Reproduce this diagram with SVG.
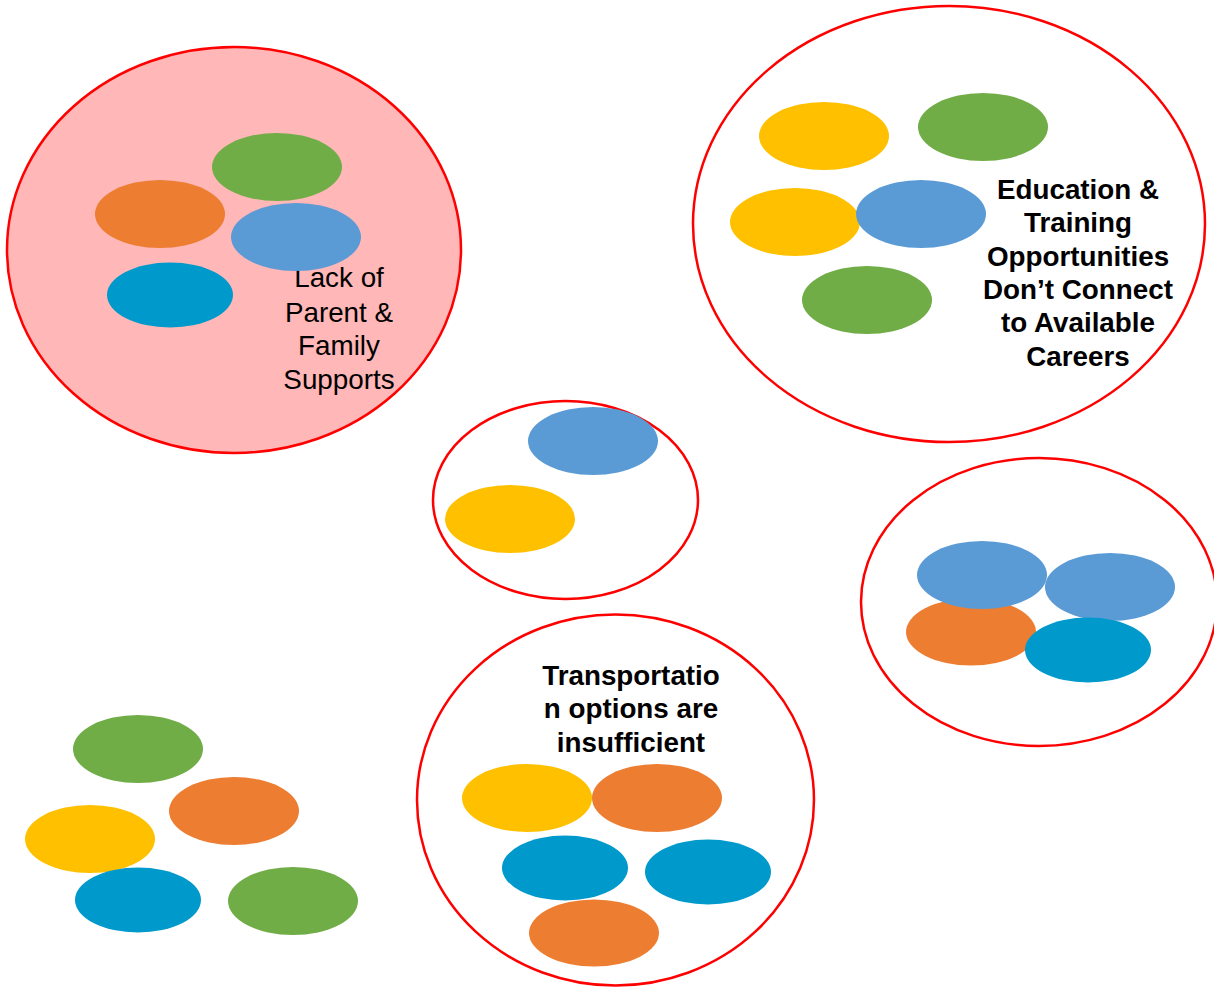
<svg xmlns="http://www.w3.org/2000/svg" width="1214" height="987" viewBox="0 0 1214 987">
<style>
.ring{fill:#FFFFFF;stroke:#FF0000;stroke-width:2.5}
.pink{fill:#FFB7B7}
.g{fill:#70AD47}.o{fill:#ED7D31}.b{fill:#5B9BD5}.t{fill:#0099CC}.y{fill:#FFC000}
.lbl{font-family:"Liberation Sans",Arial,sans-serif;font-size:27.8px;fill:#000;text-anchor:middle}
.bold{font-weight:bold}
</style>
<rect width="1214" height="987" fill="#FFFFFF"/>
<g id="parent-family">
<ellipse class="ring pink" cx="234" cy="250" rx="227" ry="203"/>
<text class="lbl"><tspan x="339" y="287">Lack of</tspan><tspan x="339" y="322">Parent &amp;</tspan><tspan x="339" y="355">Family</tspan><tspan x="339" y="389">Supports</tspan></text>
<ellipse class="g" cx="277" cy="167" rx="65" ry="34"/>
<ellipse class="o" cx="160" cy="214" rx="65" ry="34"/>
<ellipse class="b" cx="296" cy="237" rx="65" ry="34"/>
<ellipse class="t" cx="170" cy="295" rx="63" ry="32.5"/>
</g>
<g id="education">
<ellipse class="ring" cx="949" cy="224" rx="256" ry="218"/>
<ellipse class="y" cx="824" cy="136" rx="65" ry="34"/>
<ellipse class="g" cx="983" cy="127" rx="65" ry="34"/>
<ellipse class="y" cx="795" cy="222" rx="65" ry="34"/>
<ellipse class="b" cx="921" cy="214" rx="65" ry="34"/>
<ellipse class="g" cx="867" cy="300" rx="65" ry="34"/>
<text class="lbl bold"><tspan x="1078" y="199">Education &amp;</tspan><tspan x="1078" y="232">Training</tspan><tspan x="1078" y="266">Opportunities</tspan><tspan x="1078" y="299">Don’t Connect</tspan><tspan x="1078" y="332">to Available</tspan><tspan x="1078" y="366">Careers</tspan></text>
</g>
<g id="middle-cluster">
<ellipse class="ring" cx="565.5" cy="500" rx="132.5" ry="99"/>
<ellipse class="b" cx="593" cy="441" rx="65" ry="34"/>
<ellipse class="y" cx="510" cy="519" rx="65" ry="34"/>
</g>
<g id="right-cluster">
<ellipse class="ring" cx="1039" cy="602" rx="178" ry="144"/>
<ellipse class="o" cx="971" cy="632" rx="65" ry="33.5"/>
<ellipse class="b" cx="982" cy="575" rx="65" ry="34"/>
<ellipse class="b" cx="1110" cy="587" rx="65" ry="34"/>
<ellipse class="t" cx="1088" cy="650" rx="63" ry="32.5"/>
</g>
<g id="transportation">
<ellipse class="ring" cx="615.5" cy="800" rx="198.5" ry="185.5"/>
<text class="lbl bold"><tspan x="631" y="685">Transportatio</tspan><tspan x="631" y="718">n options are</tspan><tspan x="631" y="752">insufficient</tspan></text>
<ellipse class="y" cx="527" cy="798" rx="65" ry="34"/>
<ellipse class="o" cx="657" cy="798" rx="65" ry="34"/>
<ellipse class="t" cx="565" cy="868" rx="63" ry="32.5"/>
<ellipse class="t" cx="708" cy="872" rx="63" ry="32.5"/>
<ellipse class="o" cx="594" cy="933" rx="65" ry="33.5"/>
</g>
<g id="loose-cluster">
<ellipse class="g" cx="138" cy="749" rx="65" ry="34"/>
<ellipse class="o" cx="234" cy="811" rx="65" ry="34"/>
<ellipse class="y" cx="90" cy="839" rx="65" ry="34"/>
<ellipse class="t" cx="138" cy="900" rx="63" ry="32.5"/>
<ellipse class="g" cx="293" cy="901" rx="65" ry="34"/>
</g>
<g id="connectors"/>
</svg>
